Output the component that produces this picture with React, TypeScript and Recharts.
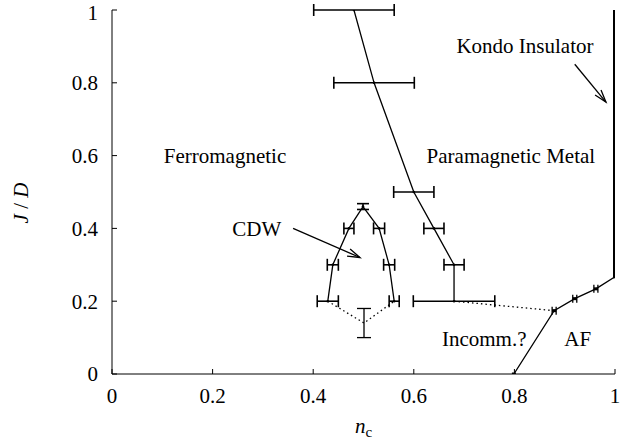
import React from "react";
import {
  ScatterChart,
  Scatter,
  XAxis,
  YAxis,
  ErrorBar,
  ReferenceLine,
  ReferenceDot,
} from "recharts";

// phase boundary between ferromagnet and paramagnetic metal
const FM_PM = [
  { x: 0.481, y: 1.0, xerr: 0.08 },
  { x: 0.521, y: 0.8, xerr: 0.08 },
  { x: 0.6, y: 0.5, xerr: 0.04 },
  { x: 0.64, y: 0.4, xerr: 0.02 },
  { x: 0.68, y: 0.3, xerr: 0.02 },
  { x: 0.68, y: 0.2, xerr: 0.081 },
];

// CDW dome, solid part
const CDW_SOLID = [
  { x: 0.429, y: 0.2, xerr: 0.021 },
  { x: 0.439, y: 0.3, xerr: 0.011 },
  { x: 0.471, y: 0.4, xerr: 0.01 },
  { x: 0.499, y: 0.46, yerr: 0.008 },
  { x: 0.531, y: 0.4, xerr: 0.011 },
  { x: 0.551, y: 0.3, xerr: 0.011 },
  { x: 0.561, y: 0.2, xerr: 0.01 },
];

// CDW dome, dotted bottom
const CDW_DOTTED = [
  { x: 0.429, y: 0.2 },
  { x: 0.501, y: 0.14, yerr: 0.04 },
  { x: 0.561, y: 0.2 },
];

const PM_AF_DOTTED = [
  { x: 0.68, y: 0.2 },
  { x: 0.879, y: 0.174 },
];

const AF = [
  { x: 0.799, y: 0 },
  { x: 0.879, y: 0.174, xerr: 0.004 },
  { x: 0.92, y: 0.207, xerr: 0.004 },
  { x: 0.962, y: 0.234, xerr: 0.004 },
  { x: 1.0, y: 0.267 },
];

const KONDO = [
  { x: 1.0, y: 0.267 },
  { x: 1.0, y: 1.0 },
];

const KONDO_ARROW = [
  { x: 0.92, y: 0.851 },
  { x: 0.982, y: 0.747 },
];
const CDW_ARROW = [
  { x: 0.36, y: 0.4 },
  { x: 0.493, y: 0.32 },
];

const REGION_LABELS = [
  { text: "Ferromagnetic", x: 0.2247, y: 0.581 },
  { text: "Paramagnetic Metal", x: 0.793, y: 0.579 },
  { text: "Kondo Insulator", x: 0.821, y: 0.882 },
  { text: "CDW", x: 0.288, y: 0.38 },
  { text: "Incomm.?", x: 0.74, y: 0.077 },
  { text: "AF", x: 0.926, y: 0.077 },
];

const X_TICKS = [0, 0.2, 0.4, 0.6, 0.8, 1];
const Y_TICKS = [0, 0.2, 0.4, 0.6, 0.8, 1];

const FONT = "'Liberation Serif', 'Times New Roman', serif";
const tickStyle = { fill: "#000", fontSize: 21, fontFamily: FONT };

const Dot = (p: any) => <circle cx={p.cx} cy={p.cy} r={1.3} fill="#000" />;
const SquareDot = (p: any) => (
  <rect x={p.cx - 2} y={p.cy - 1.5} width={4} height={3} fill="#000" />
);
const NoDot = () => <g />;

const Arrow = (p: any) => {
  const { x1, y1, x2, y2 } = p;
  const a = Math.atan2(y2 - y1, x2 - x1);
  const L = 13;
  const w = 0.3;
  const ax = x2 - L * Math.cos(a - w);
  const ay = y2 - L * Math.sin(a - w);
  const bx = x2 - L * Math.cos(a + w);
  const by = y2 - L * Math.sin(a + w);
  return (
    <g>
      <line x1={x1} y1={y1} x2={x2} y2={y2} stroke="#000" strokeWidth={1.3} />
      <path
        d={`M${ax},${ay} L${x2},${y2} L${bx},${by}`}
        fill="none"
        stroke="#000"
        strokeWidth={1.3}
      />
    </g>
  );
};

const XLabel = (props: any) => {
  const vb = props.viewBox;
  return (
    <text
      x={vb.x + vb.width / 2}
      y={vb.y + 59}
      textAnchor="middle"
      fontFamily={FONT}
      fontSize={21}
      fill="#000"
    >
      <tspan fontStyle="italic">n</tspan>
      <tspan fontSize={15} dy={4}>
        c
      </tspan>
    </text>
  );
};

const YLabel = (props: any) => {
  const vb = props.viewBox;
  const x = 28;
  const y = vb.y + vb.height / 2 + 11;
  return (
    <text
      x={x}
      y={y}
      textAnchor="middle"
      fontFamily={FONT}
      fontSize={21}
      fill="#000"
      transform={`rotate(-90, ${x}, ${y})`}
    >
      <tspan fontStyle="italic">J</tspan>
      <tspan> / </tspan>
      <tspan fontStyle="italic">D</tspan>
    </text>
  );
};

const line = { stroke: "#000", strokeWidth: 1.3 };
const dotted = { stroke: "#000", strokeWidth: 1.3, strokeDasharray: "1.5 3" };

export default function App() {
  return (
    <div style={{ position: "absolute", left: 0, top: 0 }}>
      <ScatterChart
        width={624}
        height={444}
        margin={{ top: 10, right: 9, bottom: 0, left: 0 }}
      >
        <XAxis
          xAxisId="b"
          type="number"
          dataKey="x"
          domain={[0, 1]}
          ticks={X_TICKS}
          allowDataOverflow
          height={70}
          tickSize={-5}
          tickMargin={19}
          tick={tickStyle}
          axisLine={{ stroke: "#000" }}
          tickLine={{ stroke: "#000" }}
          label={{ content: (p: any) => <XLabel {...p} /> }}
        />
        <XAxis
          xAxisId="t"
          orientation="top"
          type="number"
          domain={[0, 1]}
          ticks={X_TICKS}
          allowDataOverflow
          height={0}
          tickSize={-5}
          tick={false}
          axisLine={{ stroke: "#000" }}
          tickLine={{ stroke: "#000" }}
        />
        <YAxis
          yAxisId="l"
          type="number"
          dataKey="y"
          domain={[0, 1]}
          ticks={Y_TICKS}
          allowDataOverflow
          width={112}
          tickSize={-5}
          tickMargin={19}
          tick={tickStyle}
          axisLine={{ stroke: "#000" }}
          tickLine={{ stroke: "#000" }}
          label={{ content: (p: any) => <YLabel {...p} /> }}
        />
        <YAxis
          yAxisId="r"
          orientation="right"
          type="number"
          domain={[0, 1]}
          ticks={Y_TICKS}
          allowDataOverflow
          width={0}
          tickSize={-5}
          tick={false}
          axisLine={{ stroke: "#000" }}
          tickLine={{ stroke: "#000" }}
        />

        <Scatter
          xAxisId="b"
          yAxisId="l"
          data={FM_PM}
          line={line}
          shape={Dot}
          isAnimationActive={false}
        >
          <ErrorBar dataKey="xerr" direction="x" width={6} stroke="#000" strokeWidth={1.6} />
        </Scatter>
        <Scatter
          xAxisId="b"
          yAxisId="l"
          data={CDW_SOLID}
          line={line}
          shape={Dot}
          isAnimationActive={false}
        >
          <ErrorBar dataKey="xerr" direction="x" width={6} stroke="#000" strokeWidth={1.6} />
          <ErrorBar dataKey="yerr" direction="y" width={6} stroke="#000" strokeWidth={1.6} />
        </Scatter>
        <Scatter
          xAxisId="b"
          yAxisId="l"
          data={CDW_DOTTED}
          line={dotted}
          shape={NoDot}
          isAnimationActive={false}
        >
          <ErrorBar dataKey="yerr" direction="y" width={7} stroke="#000" strokeWidth={1.3} />
        </Scatter>
        <Scatter
          xAxisId="b"
          yAxisId="l"
          data={PM_AF_DOTTED}
          line={dotted}
          shape={NoDot}
          isAnimationActive={false}
        />
        <Scatter
          xAxisId="b"
          yAxisId="l"
          data={AF}
          line={line}
          shape={SquareDot}
          isAnimationActive={false}
        >
          <ErrorBar dataKey="xerr" direction="x" width={4} stroke="#000" strokeWidth={1.3} />
        </Scatter>
        <Scatter
          xAxisId="b"
          yAxisId="l"
          data={KONDO}
          line={{ stroke: "#000", strokeWidth: 4 }}
          shape={NoDot}
          isAnimationActive={false}
        />

        <ReferenceLine
          xAxisId="b"
          yAxisId="l"
          segment={KONDO_ARROW}
          shape={Arrow}
        />
        <ReferenceLine
          xAxisId="b"
          yAxisId="l"
          segment={CDW_ARROW}
          shape={Arrow}
        />

        {REGION_LABELS.map((l) => (
          <ReferenceDot
            key={l.text}
            xAxisId="b"
            yAxisId="l"
            x={l.x}
            y={l.y}
            r={0}
            shape={(p: any) => (
              <text
                x={p.cx}
                y={p.cy}
                textAnchor="middle"
                fontFamily={FONT}
                fontSize={21}
                fill="#000"
              >
                {l.text}
              </text>
            )}
          />
        ))}
      </ScatterChart>
    </div>
  );
}
